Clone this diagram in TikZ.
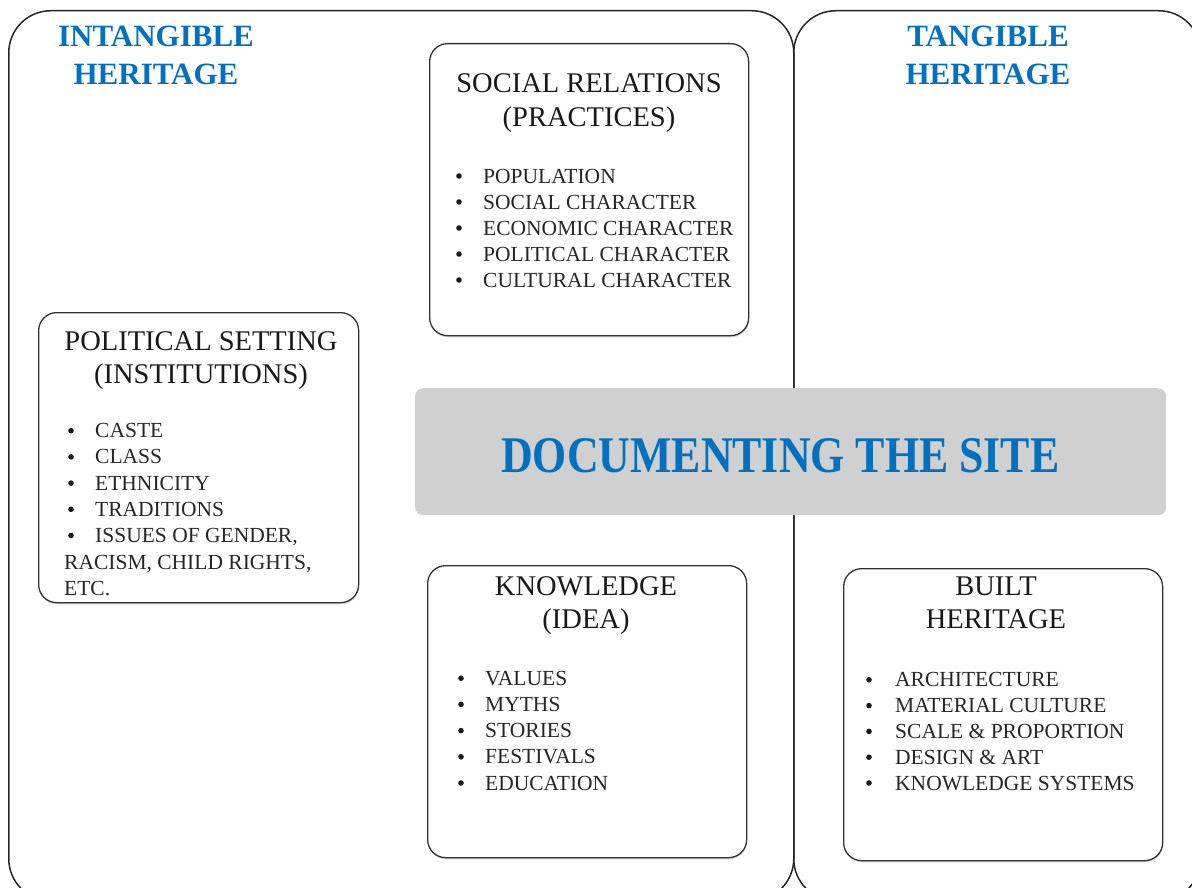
\documentclass[tikz,border=0pt]{standalone}
\usepackage{fontspec}
\usepackage{graphicx}
\setmainfont{Liberation Serif}
\usetikzlibrary{shadows}
\definecolor{hblue}{RGB}{0,112,192}
\definecolor{cgray}{RGB}{208,208,208}
\begin{document}
\begin{tikzpicture}[x=1pt,y=-1pt,
  bigbox/.style={draw=black!85,line width=1.5pt,rounded corners=42pt,inner sep=0,anchor=north west},
  ibox/.style={draw=black!80,line width=1.3pt,fill=white,rounded corners=18pt,inner sep=0,anchor=north west,
    drop shadow={shadow xshift=0.5pt,shadow yshift=-1.6pt,fill=black!35}},
  ttl/.style={font=\fontsize{28.5}{34}\selectfont,text=black!90,inner sep=0,anchor=base},
  itm/.style={font=\fontsize{21.5}{26}\selectfont,text=black!85,inner sep=0,anchor=base west},
  bul/.style={circle,fill=black!90,inner sep=0,minimum size=5.6pt},
  htl/.style={font=\fontsize{31}{38}\selectfont\bfseries,text=hblue,inner sep=0,anchor=base},
]
\useasboundingbox (0,0) rectangle (1192,888);
\begin{scope}
\clip (0,0) rectangle (1192,888);
\node[bigbox,minimum width=785pt,minimum height=890pt] (left) at (8,10) {};
\node[bigbox,minimum width=407pt,minimum height=890pt] (right) at (793,10) {};
\end{scope}

% headings
\node[htl] (intg1) at (156,47) {INTANGIBLE};
\node[htl] (intg2) at (156,85) {HERITAGE};
\node[htl] (tg1) at (988,47) {TANGIBLE};
\node[htl] (tg2) at (988,85) {HERITAGE};

% social relations
\node[ibox,minimum width=319pt,minimum height=292pt] (soc) at (429,43) {};
\node[ttl] (soct1) at (589,93) {SOCIAL RELATIONS};
\node[ttl] (soct2) at (589,127) {(PRACTICES)};
\foreach \t [count=\i] in {POPULATION,SOCIAL CHARACTER,ECONOMIC CHARACTER,POLITICAL CHARACTER,CULTURAL CHARACTER}{
  \node[bul] (socb\i) at (459,150+26*\i) {};
  \node[itm] (soci\i) at (483,157+26*\i) {\t};
}

% political setting
\node[ibox,minimum width=320pt,minimum height=290pt] (pol) at (38,312) {};
\node[ttl] (polt1) at (201,350) {POLITICAL SETTING};
\node[ttl] (polt2) at (201,383) {(INSTITUTIONS)};
\foreach \t [count=\i] in {CASTE,CLASS,ETHNICITY,TRADITIONS,{ISSUES OF GENDER,}}{
  \node[bul] (polb\i) at (71,404.5+26.2*\i) {};
  \node[itm] (poli\i) at (95,411.5+26.2*\i) {\t};
}
\node[itm] (poli6) at (64,569) {RACISM, CHILD RIGHTS,};
\node[itm] (poli7) at (64,595) {ETC.};

% knowledge
\node[ibox,minimum width=319pt,minimum height=292pt] (kno) at (427,565) {};
\node[ttl] (knot1) at (586,595) {KNOWLEDGE};
\node[ttl] (knot2) at (586,628) {(IDEA)};
\foreach \t [count=\i] in {VALUES,MYTHS,STORIES,FESTIVALS,EDUCATION}{
  \node[bul] (knob\i) at (461,652+26.2*\i) {};
  \node[itm] (knoi\i) at (485,659+26.2*\i) {\t};
}

% built heritage
\node[ibox,minimum width=319pt,minimum height=292pt] (blt) at (843,568) {};
\node[ttl] (bltt1) at (996,595) {BUILT};
\node[ttl] (bltt2) at (996,628) {HERITAGE};
\foreach \t [count=\i] in {ARCHITECTURE,MATERIAL CULTURE,{SCALE \& PROPORTION},{DESIGN \& ART},KNOWLEDGE SYSTEMS}{
  \node[bul] (bltb\i) at (869,654+25.8*\i) {};
  \node[itm] (blti\i) at (895,661+25.8*\i) {\t};
}

% centre banner
\node[fill=cgray,rounded corners=8pt,inner sep=0,minimum width=751pt,minimum height=127pt,anchor=north west] (doc) at (415,388) {};
\node[inner sep=0,anchor=base west,text=hblue] (doctxt) at (501,472) {\resizebox{558pt}{34pt}{\bfseries DOCUMENTING THE SITE}};
\end{tikzpicture}
\end{document}
